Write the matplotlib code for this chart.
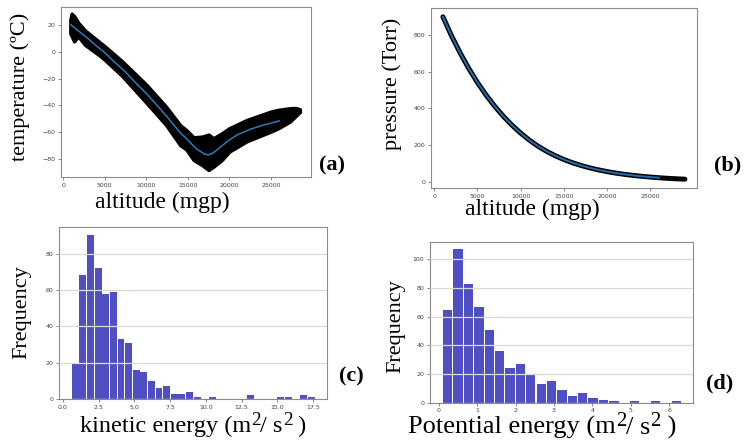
import numpy as np
import matplotlib
matplotlib.use("Agg")
import matplotlib.pyplot as plt

# (a) radiosonde temperature profile: spread of the raw points and the smoothed mean
band_alt = [850, 1000, 1300, 1800, 2600, 4250, 5000, 7100, 10000, 12350, 14100, 14800,
            15700, 16700, 17500, 18100, 19100, 20000, 22100, 25000, 25900, 27300, 28000, 28500]
band_upper = [24, 28.8, 27, 22, 16.3, 8, 4.3, -7, -24.5, -40.8, -55, -58.5,
              -64, -63.5, -62, -64.7, -61, -57.2, -51, -44.7, -43.4, -42.2, -42, -43]
band_lower = [14, 12, 8, 11.8, 5.5, -2, -5.8, -18, -38, -54.5, -70, -73,
              -81, -84.8, -88.5, -86, -81, -74.7, -67, -59.7, -57.2, -52.2, -48, -45]
line_alt = [900, 2000, 3000, 4000, 5000, 6000, 7500, 9000, 10000, 11000, 12500, 14000,
            15000, 16000, 17000, 17500, 18000, 19000, 20000, 21000, 22500, 24000, 25000, 26000]
line_temp = [20.5, 15, 10, 4.5, -0.5, -6.5, -15, -25, -31, -38, -48.5, -60,
             -66, -72.5, -76.5, -77.2, -76, -71, -66, -62, -58, -55, -53.4, -51.7]

# (b) pressure profile
alt_b = [1000, 2000, 3000, 4000, 5000, 6000, 7000, 8000, 9000, 10000, 11000, 12000,
         13000, 14000, 15000, 16000, 17000, 18000, 19000, 20000, 21000, 22000, 23000,
         24000, 25000, 26000, 27000, 28000, 29000]
pres_b = [898.7, 795.0, 701.2, 616.6, 540.5, 472.2, 411.1, 356.5, 308.0, 265.0, 227.0, 194.0,
          165.8, 141.7, 121.1, 103.5, 88.5, 75.6, 64.7, 55.3, 47.3, 40.5, 34.7,
          29.7, 25.5, 21.9, 18.8, 16.2, 14.0]
n_line_b = 26

# (c) kinetic energy histogram
ke_lo, ke_hi = 0.61, 17.63
ke_counts = [19, 68, 90, 72, 58, 59, 33, 31, 16, 15, 10, 6, 7, 3, 3, 4,
             1, 0, 1, 0, 0, 0, 0, 2, 0, 0, 0, 1, 1, 0, 2, 1]

# (d) potential energy histogram
pe_lo, pe_hi = 0.10, 6.32
pe_counts = [65, 107, 83, 67, 51, 36, 24, 27, 20, 13, 15, 9, 5, 7, 3, 2, 1, 0, 1, 0, 1, 0, 1]

W, H = 745, 443
fig = plt.figure(figsize=(W / 100, H / 100), dpi=100)
fig.patch.set_facecolor('white')

serif = 'Liberation Serif'
bar_color = '#0504aa'
line_blue = '#2b7bba'


def style_axes(ax):
    for s in ax.spines.values():
        s.set_color('#8c8c8c')
        s.set_linewidth(0.8)
    ax.tick_params(length=2.5, width=0.6, color='#777777', labelsize=4.5,
                   labelcolor='#444444', pad=1.5)


def px_text(x, y, s, **kw):
    return fig.text(x / W, 1 - y / H, s, family=serif, **kw)


def units_label(x, y, parts, size):
    # lay out text pieces side by side, raised smaller pieces act as superscripts
    renderer = fig.canvas.get_renderer()
    sizes = [size * 0.78 if sup else size for _, sup in parts]
    widths = []
    for (s, sup), sz in zip(parts, sizes):
        t = fig.text(0, 0, s, size=sz, family=serif)
        widths.append(t.get_window_extent(renderer).width)
        t.remove()
    cur = x - sum(widths) / 2
    for (s, sup), sz, w in zip(parts, sizes, widths):
        dy = size * 0.42 if sup else 0
        px_text(cur, y - dy, s, size=sz, ha='left', va='baseline')
        cur += w


# (a)
ax1 = fig.add_axes([61 / W, (H - 177) / H, 250 / W, 170 / H])
ax1.fill_between(band_alt, band_lower, band_upper, color='black', lw=2.5,
                 edgecolor='black', joinstyle='round')
ax1.plot(line_alt, line_temp, color=line_blue, lw=1.1)
ax1.set_xlim(-277, 29843)
ax1.set_ylim(-93.8, 33.8)
ax1.set_xticks([0, 5000, 10000, 15000, 20000, 25000])
ax1.set_yticks([-80, -60, -40, -20, 0, 20])
style_axes(ax1)

# (b)
ax2 = fig.add_axes([431 / W, (H - 188) / H, 266 / W, 180 / H])
ax2.plot(alt_b, pres_b, color='black', lw=3.6, solid_capstyle='round')
ax2.plot(alt_b[:n_line_b], pres_b[:n_line_b], color='#1f6fae', lw=1.4)
ax2.set_xlim(-380, 30400)
ax2.set_ylim(-34, 947)
ax2.set_xticks([0, 5000, 10000, 15000, 20000, 25000])
ax2.set_yticks([0, 200, 400, 600, 800])
style_axes(ax2)


def draw_hist(ax, lo, hi, counts):
    edges = np.linspace(lo, hi, len(counts) + 1)
    width = edges[1] - edges[0]
    ax.bar(edges[:-1] + width / 2, counts, width=width * 0.9, color=bar_color,
           alpha=0.7, linewidth=0)
    ax.grid(axis='y', color='#d9d9d9', lw=0.9)
    ax.set_axisbelow(False)


# (c)
ax3 = fig.add_axes([59.3 / W, 44 / H, 268 / W, 171.7 / H])
draw_hist(ax3, ke_lo, ke_hi, ke_counts)
ax3.set_xlim(-0.24, 18.48)
ax3.set_ylim(0, 94.5)
ax3.set_xticks(np.arange(0, 17.6, 2.5))
ax3.set_yticks([0, 20, 40, 60, 80])
style_axes(ax3)

# (d)
ax4 = fig.add_axes([430 / W, 40.3 / H, 263.3 / W, 161 / H])
draw_hist(ax4, pe_lo, pe_hi, pe_counts)
ax4.set_xlim(-0.227, 6.63)
ax4.set_ylim(0, 112.35)
ax4.set_xticks([0, 1, 2, 3, 4, 5, 6])
ax4.set_yticks([0, 20, 40, 60, 80, 100])
style_axes(ax4)

# axis labels and panel tags
px_text(20, 87, 'temperature (ºC)', size=16, rotation=90, ha='center', va='center')
px_text(162, 208, 'altitude (mgp)', size=17, ha='center', va='baseline')
px_text(332, 165, '(a)', size=16, weight='bold', ha='center', va='center')

px_text(392, 84, 'pressure (Torr)', size=16, rotation=90, ha='center', va='center')
px_text(532, 215, 'altitude (mgp)', size=17, ha='center', va='baseline')
px_text(728, 165, '(b)', size=16, weight='bold', ha='center', va='center')

px_text(22, 312, 'Frequency', size=16, rotation=90, ha='center', va='center')
units_label(193, 432, [('kinetic energy (m', False), ('2', True), ('/ s', False),
                       ('2', True), (' )', False)], 17.5)
px_text(351, 376, '(c)', size=16, weight='bold', ha='center', va='center')

px_text(396, 326, 'Frequency', size=16, rotation=90, ha='center', va='center')
units_label(542, 434, [('Potential energy (m', False), ('2', True), ('/ s', False),
                       ('2', True), (' )', False)], 19)
px_text(720, 383, '(d)', size=16, weight='bold', ha='center', va='center')

fig.savefig('out.png', dpi=100)
